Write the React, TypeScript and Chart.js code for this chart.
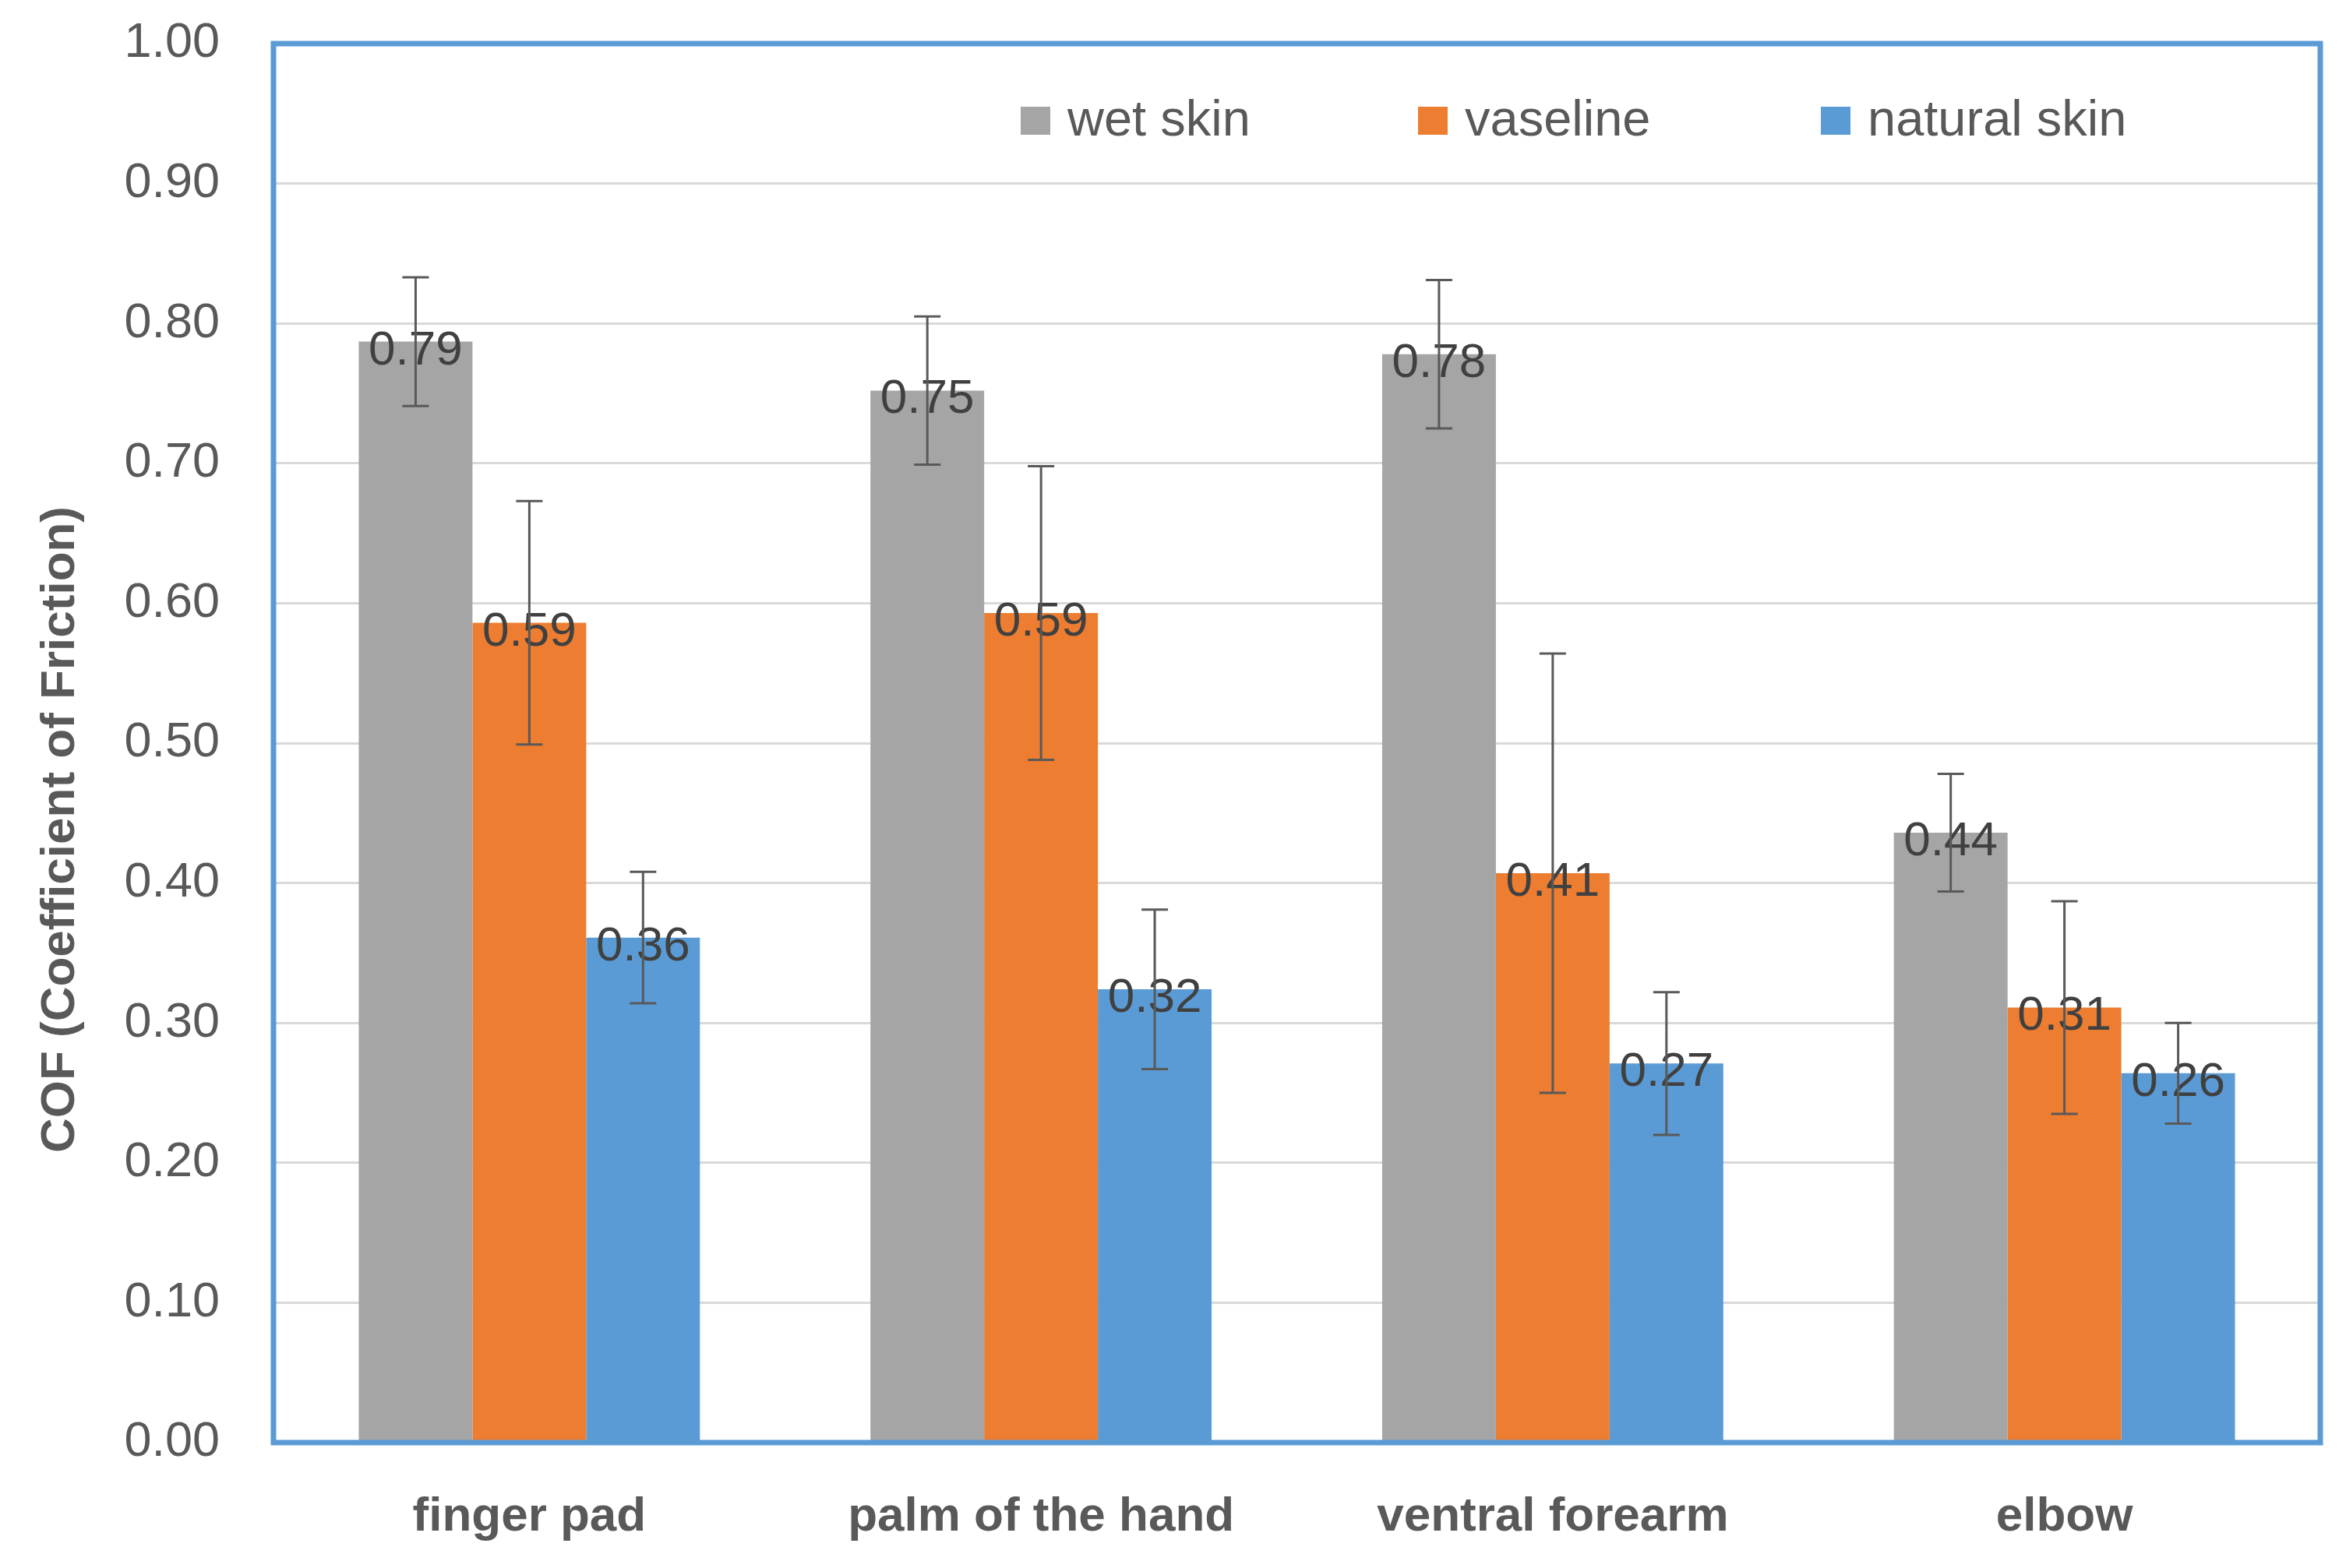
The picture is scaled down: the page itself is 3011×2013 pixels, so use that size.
import React, { useEffect, useRef } from "react";
import { Chart, registerables } from "chart.js";

Chart.register(...registerables);

const categories = ["finger pad", "palm of the hand", "ventral forearm", "elbow"];
const seriesNames = ["wet skin", "vaseline", "natural skin"];
const seriesColors = ["#A5A5A5", "#ED7D31", "#5B9BD5"];
const wetSkin = [0.787, 0.752, 0.778, 0.436];
const vaseline = [0.586, 0.593, 0.407, 0.311];
const naturalSkin = [0.361, 0.324, 0.271, 0.264];
const wetSkinErr = [0.046, 0.053, 0.053, 0.042];
const vaselineErr = [0.087, 0.105, 0.157, 0.076];
const naturalSkinErr = [0.047, 0.057, 0.051, 0.036];
const yAxisTitle = "COF (Coefficient of Friction)";

const seriesValues = [wetSkin, vaseline, naturalSkin];
const seriesErrors = [wetSkinErr, vaselineErr, naturalSkinErr];

const FONT = "'Liberation Sans', Arial, sans-serif";
const LEGEND_OFFSETS = [959, 1469, 1986];

const overlayPlugin = {
  id: "overlay",
  afterDatasetsDraw(chart: any) {
    const ctx = chart.ctx;
    const yScale = chart.scales.y;
    ctx.save();
    // value labels
    chart.data.datasets.forEach((ds: any, i: number) => {
      const meta = chart.getDatasetMeta(i);
      meta.data.forEach((bar: any, j: number) => {
        const v = ds.data[j];
        ctx.fillStyle = "#404040";
        ctx.font = `62px ${FONT}`;
        ctx.textAlign = "center";
        ctx.textBaseline = "alphabetic";
        ctx.fillText(v.toFixed(2), bar.x, yScale.getPixelForValue(v) + 29);
      });
    });
    // error bars
    chart.data.datasets.forEach((ds: any, i: number) => {
      const meta = chart.getDatasetMeta(i);
      const errs = seriesErrors[i];
      meta.data.forEach((bar: any, j: number) => {
        const v = ds.data[j];
        const top = yScale.getPixelForValue(v + errs[j]);
        const bot = yScale.getPixelForValue(v - errs[j]);
        ctx.strokeStyle = "#595959";
        ctx.lineWidth = 3;
        ctx.beginPath();
        ctx.moveTo(bar.x, top);
        ctx.lineTo(bar.x, bot);
        ctx.moveTo(bar.x - 17, top);
        ctx.lineTo(bar.x + 17, top);
        ctx.moveTo(bar.x - 17, bot);
        ctx.lineTo(bar.x + 17, bot);
        ctx.stroke();
      });
    });
    ctx.restore();
  },
  afterDraw(chart: any) {
    const ctx = chart.ctx;
    const a = chart.chartArea;
    ctx.save();
    // plot border
    ctx.strokeStyle = "#5B9BD5";
    ctx.lineWidth = 7;
    ctx.strokeRect(a.left, a.top, a.right - a.left, a.bottom - a.top);
    // legend inside plot
    chart.data.datasets.forEach((ds: any, i: number) => {
      const x = a.left + LEGEND_OFFSETS[i];
      ctx.fillStyle = ds.backgroundColor;
      ctx.fillRect(x, a.top + 81, 38, 36);
      ctx.fillStyle = "#595959";
      ctx.font = `65px ${FONT}`;
      ctx.textAlign = "left";
      ctx.textBaseline = "alphabetic";
      ctx.fillText(ds.label, x + 60, a.top + 118);
    });
    // y axis title
    ctx.translate(78, 1065);
    ctx.rotate(-Math.PI / 2);
    ctx.fillStyle = "#595959";
    ctx.font = `bold 62px ${FONT}`;
    ctx.textAlign = "center";
    ctx.textBaseline = "middle";
    ctx.fillText(yAxisTitle, 0, 0);
    ctx.restore();
  },
};

export default function App() {
  const canvasRef = useRef<HTMLCanvasElement | null>(null);

  useEffect(() => {
    if (!canvasRef.current) return;
    const chart = new Chart(canvasRef.current, {
      type: "bar",
      data: {
        labels: categories,
        datasets: seriesNames.map((name, i) => ({
          label: name,
          data: seriesValues[i],
          backgroundColor: seriesColors[i],
          borderWidth: 0,
          categoryPercentage: 3 / 4.5,
          barPercentage: 1,
        })),
      },
      options: {
        animation: false,
        responsive: true,
        maintainAspectRatio: false,
        layout: { padding: { top: 56, right: 33, left: 0, bottom: 0 } },
        plugins: {
          legend: { display: false },
          tooltip: { enabled: false },
        },
        scales: {
          x: {
            grid: { display: false, drawTicks: false },
            border: { display: false },
            ticks: {
              padding: 59,
              color: "#595959",
              font: { family: FONT, size: 62, weight: "bold" },
            },
            afterFit(scale: any) {
              scale.height = 161;
              scale.paddingLeft = 0;
              scale.paddingRight = 0;
            },
          },
          y: {
            min: 0,
            max: 1,
            grid: { color: "#D9D9D9", lineWidth: 3, drawTicks: false },
            border: { display: false },
            ticks: {
              stepSize: 0.1,
              padding: 69,
              color: "#595959",
              font: { family: FONT, size: 63 },
              callback: (v: any) => Number(v).toFixed(2),
            },
            afterFit(scale: any) {
              scale.width = 351;
              scale.paddingTop = 0;
              scale.paddingBottom = 0;
            },
          },
        },
      },
      plugins: [overlayPlugin],
    });
    return () => chart.destroy();
  }, []);

  return (
    <div
      style={{
        position: "fixed",
        left: 0,
        top: 0,
        width: 3011,
        height: 2013,
        background: "#ffffff",
      }}
    >
      <canvas ref={canvasRef} />
    </div>
  );
}
